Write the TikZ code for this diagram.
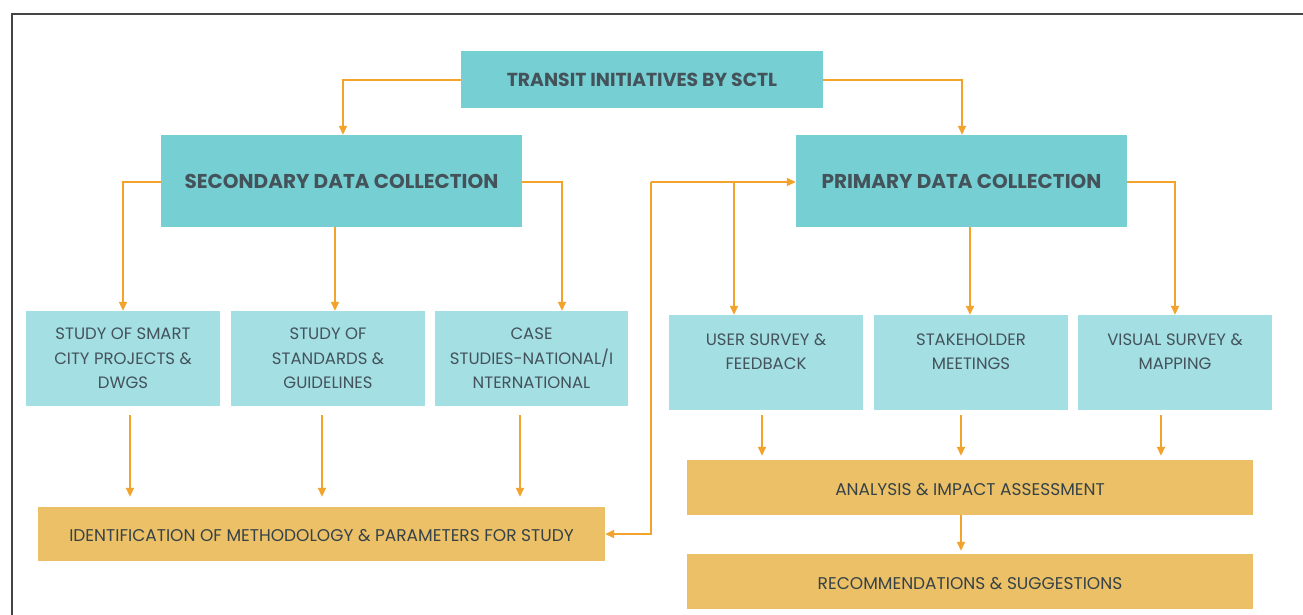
\documentclass[tikz,border=0pt]{standalone}
\usepackage{fontspec}
\setmainfont{Poppins}
\usetikzlibrary{arrows.meta,calc}
\definecolor{tealdark}{HTML}{76CFD3}
\definecolor{teallight}{HTML}{A3DFE3}
\definecolor{goldbox}{HTML}{EBC067}
\definecolor{arrowc}{HTML}{F2A32C}
\definecolor{txtc}{HTML}{44525A}
\definecolor{framec}{HTML}{444444}
\tikzset{
  darkbox/.style={fill=tealdark, draw=none, inner sep=0pt, text=txtc, font=\fontsize{20}{24}\selectfont\bfseries},
  lightbox/.style={fill=teallight, draw=none, inner sep=0pt, text=txtc, align=center, minimum width=194pt, minimum height=95pt, font=\fontsize{16.5}{24.5}\selectfont},
  goldb/.style={fill=goldbox, draw=none, inner sep=0pt, text=txtc!80!black, text height=15pt, text depth=0pt, font=\fontsize{17}{20}\selectfont},
  arr/.style={draw=arrowc, line width=1.6pt, -{Triangle[length=9pt,width=8pt]}}
}
\begin{document}
\begin{tikzpicture}[x=1pt,y=-1pt]
\useasboundingbox (0,0) rectangle (1303,615);
\fill[white] (0,0) rectangle (1303,615);
\draw[framec, line width=1.2pt] (12,615) -- (12,14) -- (1303,14);

\node[darkbox, minimum width=362pt, minimum height=57pt, font=\fontsize{18.8}{22}\selectfont\bfseries] (title) at (642,79.5) {TRANSIT INITIATIVES BY SCTL};
\node[darkbox, minimum width=361pt, minimum height=92pt] (sec) at (341.5,181) {SECONDARY DATA COLLECTION};
\node[darkbox, minimum width=331pt, minimum height=92pt] (pri) at (961.5,181) {PRIMARY DATA COLLECTION};

\node[lightbox] (s1) at (123,358.5) {STUDY OF SMART\\CITY PROJECTS \&\\DWGS};
\node[lightbox] (s2) at (328,358.5) {STUDY OF\\STANDARDS \&\\GUIDELINES};
\node[lightbox, minimum width=193pt] (s3) at (531.5,358.5) {CASE\\STUDIES-NATIONAL/I\\NTERNATIONAL};

\node[lightbox] (u1) at (766,362.5) {USER SURVEY \&\\FEEDBACK\\[-10pt]\strut};
\node[lightbox] (u2) at (971,362.5) {STAKEHOLDER\\MEETINGS\\[-10pt]\strut};
\node[lightbox] (u3) at (1175,362.5) {VISUAL SURVEY \&\\MAPPING\\[-10pt]\strut};

\node[goldb, minimum width=567pt, minimum height=54pt] (ident) at (321.5,534) {IDENTIFICATION OF METHODOLOGY \& PARAMETERS FOR STUDY};
\node[goldb, minimum width=566pt, minimum height=55pt] (anal) at (970,487.5) {ANALYSIS \& IMPACT ASSESSMENT};
\node[goldb, minimum width=566pt, minimum height=55pt] (rec) at (970,581.5) {RECOMMENDATIONS \& SUGGESTIONS};

% coordinates for bends
\coordinate (tl) at (343,80);
\coordinate (tr) at (962,80);
\coordinate (sl) at (123,182);
\coordinate (sr) at (562,182);
\coordinate (pr) at (1175,182);
\coordinate (vx) at (651,182);
\coordinate (bx) at (734,182);

\draw[arr] (title.west |- tl) -- (tl) -- (tl |- sec.north);
\draw[arr] (title.east |- tr) -- (tr) -- (tr |- pri.north);
\draw[arr] (sec.west |- sl) -- (sl) -- (sl |- s1.north);
\draw[arr] (sec.south -| 335,0) -- (335,0 |- s2.north);
\draw[arr] (sec.east |- sr) -- (sr) -- (sr |- s3.north);
\draw[arr] (pri.south -| 970,0) -- (970,0 |- u2.north);
\draw[arr] (pri.east |- pr) -- (pr) -- (pr |- u3.north);

\draw[arr] (vx) -- (pri.west |- vx);
\draw[arr] (vx) -- (vx |- ident.east) -- (ident.east);
\draw[arr] (bx) -- (bx |- u1.north);

\draw[arr, shorten <=9pt, shorten >=10pt] (s1.south -| 130,0) -- (130,0 |- ident.north);
\draw[arr, shorten <=9pt, shorten >=10pt] (s2.south -| 322,0) -- (322,0 |- ident.north);
\draw[arr, shorten <=9pt, shorten >=10pt] (s3.south -| 520,0) -- (520,0 |- ident.north);

\draw[arr, shorten <=5pt, shorten >=4pt] (u1.south -| 762,0) -- (762,0 |- anal.north);
\draw[arr, shorten <=5pt, shorten >=4pt] (u2.south -| 961,0) -- (961,0 |- anal.north);
\draw[arr, shorten <=5pt, shorten >=4pt] (u3.south -| 1161,0) -- (1161,0 |- anal.north);
\draw[arr, shorten >=3pt] (anal.south -| 961,0) -- (961,0 |- rec.north);
\end{tikzpicture}
\end{document}
